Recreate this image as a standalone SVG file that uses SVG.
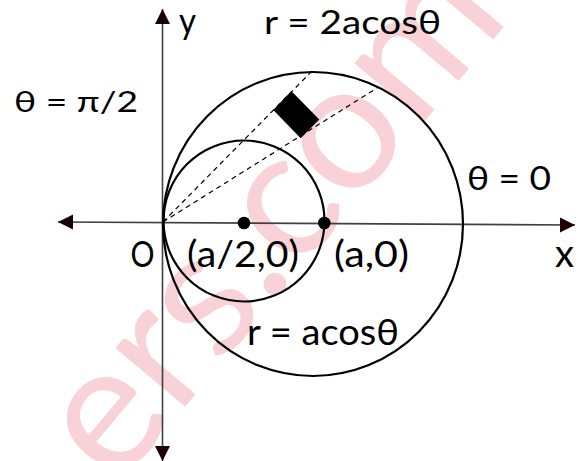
<svg xmlns="http://www.w3.org/2000/svg" width="583" height="461" viewBox="0 0 583 461">
  <style>
    .lbl { font-family: Lato, "Open Sans", "Liberation Sans", sans-serif; fill: #000; }
    .axis { stroke: #404040; stroke-width: 1.6; fill: none; }
    .curve { stroke: #000; stroke-width: 2.2; fill: none; }
    .dash { stroke: #000; stroke-width: 1.2; stroke-dasharray: 5 4; fill: none; }
    .wm { font-family: Lato, "Open Sans", sans-serif; fill: #f8d2d6; }
  </style>
  <defs>
    <marker id="arrow" markerUnits="userSpaceOnUse" markerWidth="16" markerHeight="16" refX="15" refY="7.5" orient="auto-start-reverse">
      <path d="M0,0 L15,7.5 L0,15 Z" fill="#1a0000"/>
    </marker>
  </defs>

  <rect width="583" height="461" fill="#fff"/>

  <g id="watermark">
    <text class="wm" x="116" y="489" font-size="180" transform="rotate(-50 116 489)">ers.com</text>
  </g>

  <g id="connectors">
    <line id="y-axis" class="axis" x1="162.5" y1="9" x2="162.5" y2="461" marker-start="url(#arrow)" marker-end="url(#arrow)"/>
    <line id="x-axis" class="axis" x1="58" y1="222" x2="575" y2="225" marker-start="url(#arrow)" marker-end="url(#arrow)"/>
    <line class="dash" x1="163" y1="222" x2="312" y2="71"/>
    <line class="dash" x1="163" y1="222" x2="377" y2="88"/>
  </g>

  <g id="circle-big">
    <ellipse class="curve" cx="313" cy="224" rx="150" ry="152"/>
  </g>
  <g id="circle-small">
    <circle class="curve" cx="244" cy="221" r="80.5"/>
  </g>
  <g id="element">
    <polygon points="273.3,110 291.3,91 319.3,119.5 300.7,138.3" fill="#000"/>
  </g>
  <g id="point-center">
    <circle cx="244" cy="223" r="6.3" fill="#000"/>
  </g>
  <g id="point-a">
    <circle cx="324.3" cy="223" r="6.3" fill="#000"/>
  </g>

  <g id="labels">
    <text class="lbl" x="179" y="34" font-size="37" textLength="17" lengthAdjust="spacingAndGlyphs">y</text>
    <text class="lbl" x="264" y="34.3" font-size="32" textLength="177" lengthAdjust="spacingAndGlyphs">r = 2acosθ</text>
    <text class="lbl" x="14" y="111.7" font-size="28.5" textLength="124" lengthAdjust="spacingAndGlyphs">θ = π/2</text>
    <text class="lbl" x="467" y="190" font-size="33" textLength="84" lengthAdjust="spacingAndGlyphs">θ = 0</text>
    <text class="lbl" x="555" y="266.7" font-size="39" textLength="19" lengthAdjust="spacingAndGlyphs">x</text>
    <text class="lbl" x="130.5" y="266.5" font-size="36" textLength="24" lengthAdjust="spacingAndGlyphs">O</text>
    <text class="lbl" x="187" y="266.5" font-size="36" textLength="112" lengthAdjust="spacingAndGlyphs">(a/2,0)</text>
    <text class="lbl" x="334" y="266.5" font-size="36" textLength="75" lengthAdjust="spacingAndGlyphs">(a,0)</text>
    <text class="lbl" x="247" y="345" font-size="36" textLength="152" lengthAdjust="spacingAndGlyphs">r = acosθ</text>
  </g>
</svg>
